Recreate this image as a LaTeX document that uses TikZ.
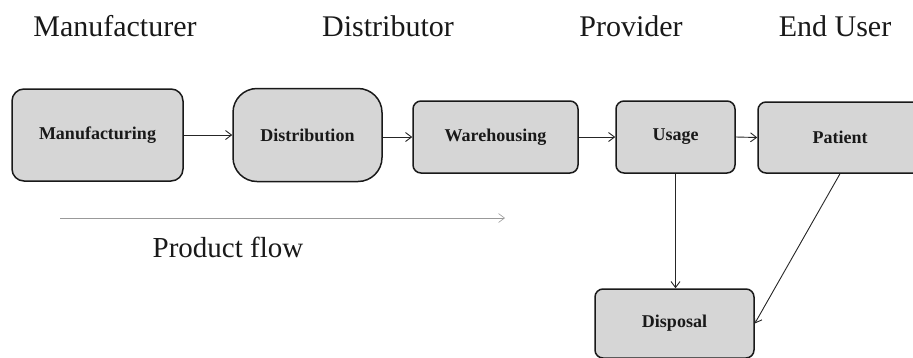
\documentclass[tikz,border=0pt]{standalone}
\usepackage{fontspec}
\setmainfont{Liberation Serif}
\usetikzlibrary{arrows.meta}
\begin{document}
\begin{tikzpicture}[x=1pt,y=-1pt,
  box/.style={draw=black!90, line width=1.5pt, fill=black!16, inner sep=0pt,
    font=\fontsize{18}{20}\selectfont\bfseries, text=black!90},
  arr/.style={-{Straight Barb[length=6pt,width=9pt]}, line width=0.9pt, draw=black!85},
  role/.style={anchor=base, font=\fontsize{30}{32}\selectfont, text=black!90}]
\useasboundingbox (0,0) rectangle (913,357);
\clip (0,0) rectangle (913,357);
\node[role] (lman) at (115,36) {Manufacturer};
\node[role] (ldist) at (388,36) {Distributor};
\node[role] (lprov) at (631,36) {Provider};
\node[role] (lend) at (835,36) {End User};

\node[box, rounded corners=12pt, minimum width=171pt, minimum height=92pt] (man) at (97.5,135) {Manufacturing};
\node[box, rounded corners=24pt, minimum width=149pt, minimum height=93pt] (dist) at (307.5,135) {Distribution};
\node[box, rounded corners=8pt, minimum width=165pt, minimum height=72pt] (ware) at (495.5,137) {Warehousing};
\node[box, rounded corners=8pt, minimum width=119pt, minimum height=72pt] (usage) at (675.5,137) {Usage};
\node[box, rounded corners=8pt, minimum width=164pt, minimum height=71pt] (pat) at (840,137.5) {Patient};
\node[box, rounded corners=8pt, minimum width=159pt, minimum height=69pt] (disp) at (674.5,323.5) {Disposal};

\draw[arr] (man.east) -- (dist.west);
\draw[arr] (dist.east |- ware.west) -- (ware.west);
\draw[arr] (ware.east) -- (usage.west);
\draw[arr] (usage.east) -- (pat.west);
\draw[arr] (usage.south) -- (usage.south |- disp.north);
\draw[arr] (pat.south) -- (disp.east);

\coordinate (pf1) at (60,218);
\coordinate (pf2) at (505,218);
\draw[-{Straight Barb[length=6pt,width=9pt]}, line width=0.6pt, draw=black!40] (pf1) -- (pf2);
\node[font=\fontsize{29}{31}\selectfont, text=black!90] (pflow) at (228,247) {Product flow};
\end{tikzpicture}
\end{document}
